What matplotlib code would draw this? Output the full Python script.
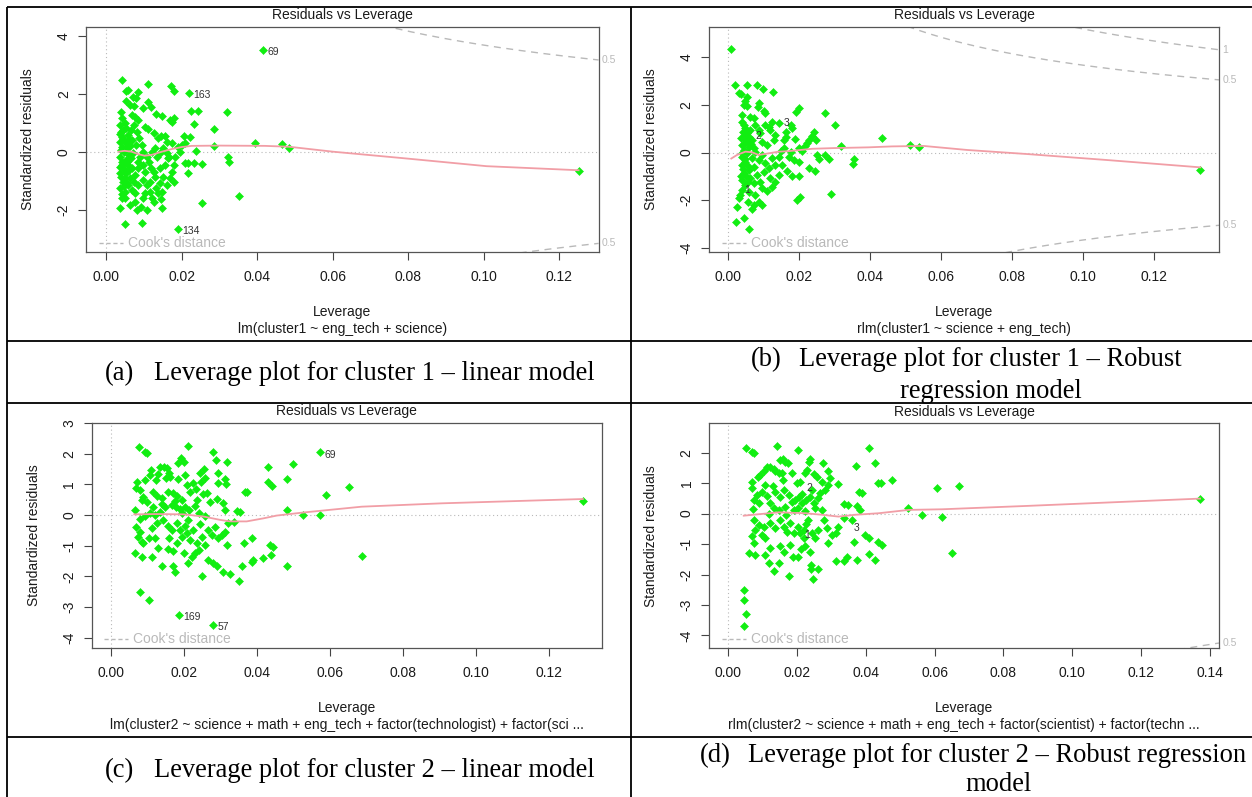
import numpy as np
import matplotlib
matplotlib.use("Agg")
import matplotlib.pyplot as plt
from matplotlib.lines import Line2D
from matplotlib.transforms import blended_transform_factory

# ---- data read off the four R "Residuals vs Leverage" plots ----
# (a) lm, cluster 1
pts_a = [
    (0.0042, 2.47), (0.0051, 2.09), (0.0058, 2.11), (0.0111, 2.32), (0.0171, 2.28), (0.0179, 2.09),
    (0.0083, 2.05), (0.0070, 1.90), (0.0079, 1.84), (0.0052, 1.76), (0.0063, 1.61), (0.0073, 1.57),
    (0.0110, 1.70), (0.0117, 1.55), (0.0098, 1.49), (0.0132, 1.29), (0.0148, 1.24), (0.0039, 1.36),
    (0.0042, 1.15), (0.0048, 0.98), (0.0067, 1.26), (0.0076, 1.21), (0.0085, 1.09), (0.0169, 1.09),
    (0.0175, 1.03), (0.0178, 1.15), (0.0224, 1.41), (0.0242, 1.41), (0.0231, 0.94), (0.0286, 0.77),
    (0.0319, 1.36), (0.0206, 0.55), (0.0222, 0.49), (0.0175, 0.29), (0.0160, 0.34), (0.0145, 0.54),
    (0.0154, 0.55), (0.0101, 0.84), (0.0110, 0.78), (0.0125, 0.63), (0.0136, 0.46), (0.0238, 0.02),
    (0.0286, 0.21), (0.0323, -0.17), (0.0325, -0.37), (0.0208, -0.40), (0.0217, -0.40), (0.0231, -0.40),
    (0.0253, -0.44), (0.0215, -0.75), (0.0180, -0.46), (0.0175, -0.69), (0.0182, -0.17), (0.0164, -0.23),
    (0.0155, -0.46), (0.0142, -0.57), (0.0129, -0.86), (0.0116, -1.03), (0.0107, -1.15), (0.0102, -0.69),
    (0.0098, -0.46), (0.0085, -0.57), (0.0076, -0.80), (0.0072, -1.03), (0.0058, -1.15), (0.0049, -1.38),
    (0.0041, -1.61), (0.0049, -1.61), (0.0036, -1.95), (0.0076, -1.72), (0.0082, -2.02), (0.0092, -1.90),
    (0.0107, -2.01), (0.0120, -1.61), (0.0127, -1.72), (0.0145, -1.63), (0.0147, -1.93), (0.0138, -1.44),
    (0.0116, -1.38), (0.0102, -1.44), (0.0095, -2.45), (0.0049, -2.51), (0.0254, -1.78), (0.0352, -1.52),
    (0.0035, 0.92), (0.0039, 0.69), (0.0042, 0.52), (0.0035, 0.34), (0.0041, 0.17), (0.0046, 0.00),
    (0.0037, -0.17), (0.0042, -0.34), (0.0035, -0.52), (0.0048, -0.69), (0.0039, -0.86), (0.0044, -1.03),
    (0.0035, -1.26), (0.0053, 0.80), (0.0057, 0.57), (0.0049, 0.34), (0.0055, 0.11), (0.0060, -0.11),
    (0.0053, -0.29), (0.0058, -0.46), (0.0051, -0.75), (0.0062, -0.92), (0.0055, -1.09), (0.0064, 0.75),
    (0.0067, 0.40), (0.0065, -0.23), (0.0069, -0.57), (0.0071, -0.06), (0.0037, 0.60), (0.0044, 0.45),
    (0.0040, -0.45), (0.0047, -0.60), (0.0038, 0.05), (0.0050, -0.90), (0.0045, 0.75), (0.0056, 0.28),
    (0.0061, 0.45), (0.0059, -0.62), (0.0046, -1.20), (0.0040, -1.45), (0.0037, -0.72), (0.0062, 0.20),
    (0.0054, -0.35), (0.0074, 0.92), (0.0080, 0.69), (0.0087, 0.46), (0.0094, 0.23), (0.0078, 0.23),
    (0.0089, -0.17), (0.0098, 0.00), (0.0107, -0.17), (0.0083, -0.34), (0.0113, -0.34), (0.0120, 0.00),
    (0.0129, 0.11), (0.0133, -0.17), (0.0142, -0.06), (0.0151, 0.11), (0.0160, -0.06), (0.0166, -0.17),
    (0.0189, 0.17), (0.0200, 0.23), (0.0208, 0.29), (0.0195, 0.00), (0.0118, -0.57), (0.0125, -0.69),
    (0.0151, -0.86), (0.0169, -0.92), (0.0178, -1.03), (0.0160, -1.15), (0.0142, -1.09), (0.0131, -1.26),
    (0.0085, -1.15), (0.0098, -0.98), (0.0067, -1.32), (0.0076, -1.44), (0.0098, -1.61), (0.0063, -1.84),
    (0.0148, -1.38), (0.0415, 3.52), (0.0218, 2.01), (0.0191, -2.67), (0.0395, 0.31), (0.0465, 0.26),
    (0.0484, 0.14), (0.1251, -0.66),
]
smooth_a_x = [0.0032, 0.0048, 0.0067, 0.0085, 0.0102, 0.0120, 0.0147, 0.0173, 0.0200, 0.0226,
              0.0300, 0.0420, 0.0484, 0.0600, 0.0791, 0.1007, 0.1251]
smooth_a_y = [0.00, 0.03, 0.00, -0.09, -0.14, -0.11, 0.00, 0.09, 0.16, 0.20,
              0.21, 0.20, 0.17, 0.00, -0.23, -0.50, -0.64]
ids_a = [("69", 0.0415, 3.52), ("163", 0.0218, 2.01), ("134", 0.0191, -2.67)]

# (b) rlm, cluster 1
pts_b = [
    (0.0009, 4.34), (0.0019, 2.84), (0.0052, 2.84), (0.0082, 2.84), (0.0099, 2.66), (0.0127, 2.53),
    (0.0030, 2.49), (0.0035, 2.46), (0.0054, 2.35), (0.0047, 2.17), (0.0044, 2.00), (0.0054, 1.96),
    (0.0086, 2.07), (0.0085, 1.93), (0.0101, 1.75), (0.0105, 1.65), (0.0038, 1.58), (0.0063, 1.51),
    (0.0072, 1.44), (0.0201, 1.89), (0.0192, 1.69), (0.0274, 1.68), (0.0301, 1.16), (0.0124, 1.30),
    (0.0143, 1.26), (0.0176, 1.16), (0.0180, 1.02), (0.0115, 1.09), (0.0119, 0.95), (0.0242, 0.85),
    (0.0237, 0.70), (0.0162, 0.88), (0.0164, 0.67), (0.0157, 0.53), (0.0188, 0.57), (0.0133, 0.74),
    (0.0129, 0.53), (0.0227, 0.53), (0.0223, 0.39), (0.0218, 0.29), (0.0434, 0.63), (0.0317, 0.28),
    (0.0199, 0.21), (0.0207, 0.07), (0.0176, 0.01), (0.0148, 0.07), (0.0143, -0.17), (0.0284, -0.28),
    (0.0256, -0.28), (0.0251, -0.10), (0.0354, -0.27), (0.0351, -0.49), (0.0171, -0.17), (0.0185, -0.31),
    (0.0201, -0.38), (0.0229, -0.66), (0.0246, -0.77), (0.0166, -0.76), (0.0179, -0.97), (0.0201, -0.97),
    (0.0289, -1.75), (0.0204, -1.85), (0.0195, -1.99), (0.0143, -0.94), (0.0133, -1.22), (0.0124, -1.43),
    (0.0110, -1.61), (0.0096, -2.20), (0.0086, -2.06), (0.0072, -2.20), (0.0068, -2.37), (0.0056, -2.06),
    (0.0033, -1.78), (0.0030, -1.92), (0.0025, -2.27), (0.0046, -2.76), (0.0021, -2.90), (0.0058, -3.21),
    (0.0039, 1.30), (0.0044, 1.16), (0.0049, 1.02), (0.0041, 0.88), (0.0054, 0.81), (0.0060, 0.67),
    (0.0044, 0.60), (0.0068, 0.53), (0.0049, 0.39), (0.0038, 0.32), (0.0058, 0.25), (0.0072, 0.18),
    (0.0044, 0.11), (0.0077, 0.04), (0.0054, -0.03), (0.0039, -0.17), (0.0066, -0.24), (0.0086, -0.31),
    (0.0049, -0.38), (0.0038, -0.52), (0.0072, -0.59), (0.0058, -0.73), (0.0044, -0.87), (0.0082, -0.94),
    (0.0063, -1.08), (0.0039, -1.15), (0.0049, -1.36), (0.0072, -1.29), (0.0091, -1.22), (0.0060, -1.64),
    (0.0077, -1.78), (0.0038, -1.57), (0.0096, -0.10), (0.0105, -0.45), (0.0115, -0.66), (0.0101, -0.80),
    (0.0110, 0.32), (0.0096, 0.46), (0.0091, 0.81), (0.0105, 1.16), (0.0077, 1.16), (0.0086, 0.95),
    (0.0124, -0.24), (0.0133, -0.52), (0.0119, -1.08), (0.0152, -0.52), (0.0157, 0.18), (0.0096, -1.50),
    (0.0045, 0.70), (0.0052, 0.50), (0.0040, 0.00), (0.0047, -0.25), (0.0055, -0.55), (0.0042, -0.70),
    (0.0050, -1.00), (0.0062, 0.95), (0.0057, -1.25), (0.0035, -1.00), (0.0065, 0.35), (0.0036, 0.60),
    (0.0272, -0.10), (0.0249, 0.53), (0.0514, 0.31), (0.0538, 0.22), (0.1331, -0.73),
]
smooth_b_x = [0.0009, 0.0025, 0.0049, 0.0068, 0.0086, 0.0115, 0.0143, 0.0171, 0.0237, 0.0300,
              0.0395, 0.0462, 0.0551, 0.0674, 0.0842, 0.1066, 0.1331]
smooth_b_y = [-0.25, -0.10, 0.04, 0.01, -0.10, -0.03, 0.04, 0.06, 0.16, 0.19,
              0.22, 0.26, 0.28, 0.11, -0.06, -0.31, -0.62]
ids_b = [("1", 0.0055, -1.57), ("2", 0.0086, 0.70), ("3", 0.0166, 1.23)]

# (c) lm, cluster 2
pts_c = [
    (0.0079, 2.23), (0.0093, 2.06), (0.0099, 2.03), (0.0211, 2.26), (0.0282, 2.06), (0.0289, 1.79),
    (0.0318, 1.74), (0.0192, 1.85), (0.0200, 1.74), (0.0186, 1.68), (0.0110, 1.47), (0.0107, 1.30),
    (0.0095, 1.14), (0.0072, 1.09), (0.0071, 0.87), (0.0136, 1.57), (0.0147, 1.55), (0.0154, 1.52),
    (0.0161, 1.36), (0.0163, 1.23), (0.0152, 1.19), (0.0131, 1.34), (0.0124, 1.14), (0.0245, 1.36),
    (0.0257, 1.50), (0.0259, 1.19), (0.0248, 1.09), (0.0186, 1.16), (0.0204, 1.30), (0.0209, 0.98),
    (0.0227, 1.03), (0.0234, 0.84), (0.0294, 1.36), (0.0295, 1.03), (0.0314, 1.16), (0.0316, 1.01),
    (0.0368, 0.76), (0.0375, 0.76), (0.0432, 1.57), (0.0430, 1.09), (0.0442, 0.94), (0.0501, 1.65),
    (0.0483, 1.16), (0.0081, 0.81), (0.0090, 0.60), (0.0099, 0.43), (0.0085, 0.49), (0.0067, 0.16),
    (0.0117, 0.76), (0.0127, 0.62), (0.0140, 0.54), (0.0158, 0.76), (0.0172, 0.71), (0.0183, 0.62),
    (0.0195, 0.49), (0.0218, 0.76), (0.0236, 0.49), (0.0254, 0.68), (0.0265, 0.71), (0.0273, 0.43),
    (0.0291, 0.51), (0.0309, 0.38), (0.0168, 0.33), (0.0179, 0.25), (0.0190, 0.18), (0.0204, 0.25),
    (0.0215, 0.16), (0.0149, 0.25), (0.0136, 0.11), (0.0122, 0.00), (0.0108, 0.05), (0.0095, -0.05),
    (0.0081, -0.14), (0.0346, 0.14), (0.0355, 0.11), (0.0314, 0.16), (0.0241, 0.05), (0.0259, -0.05),
    (0.0483, 0.16), (0.0528, 0.00), (0.0070, -0.38), (0.0081, -0.54), (0.0074, -0.71), (0.0085, -0.87),
    (0.0090, -0.92), (0.0104, -0.76), (0.0113, -0.43), (0.0127, -0.27), (0.0122, -0.76), (0.0131, -1.09),
    (0.0145, -0.16), (0.0158, -0.36), (0.0168, -0.49), (0.0181, -0.27), (0.0190, -0.49), (0.0204, -0.36),
    (0.0195, -0.71), (0.0209, -0.60), (0.0218, -0.81), (0.0227, -0.49), (0.0236, -0.92), (0.0250, -0.71),
    (0.0259, -0.98), (0.0268, -0.49), (0.0277, -0.65), (0.0286, -0.38), (0.0295, -0.76), (0.0305, -0.65),
    (0.0314, -0.54), (0.0323, -0.27), (0.0337, -0.22), (0.0318, -0.98), (0.0067, -1.25), (0.0085, -1.36),
    (0.0113, -1.36), (0.0140, -1.68), (0.0156, -1.12), (0.0170, -1.16), (0.0172, -1.68), (0.0177, -1.85),
    (0.0183, -0.92), (0.0200, -1.25), (0.0213, -1.57), (0.0222, -1.36), (0.0232, -1.25), (0.0241, -1.14),
    (0.0250, -1.99), (0.0268, -1.47), (0.0280, -1.57), (0.0291, -1.68), (0.0307, -1.85), (0.0327, -1.92),
    (0.0353, -2.17), (0.0359, -1.66), (0.0366, -0.90), (0.0387, -0.76), (0.0390, -1.47), (0.0387, -1.55),
    (0.0417, -1.41), (0.0437, -0.98), (0.0444, -1.03), (0.0439, -1.30), (0.0483, -1.65), (0.0081, -2.50),
    (0.0104, -2.79), (0.0187, -3.26), (0.0282, -3.60), (0.0575, 2.04), (0.0589, 0.64), (0.0652, 0.90),
    (0.0688, -1.34), (0.0575, 0.00), (0.1294, 0.47), (0.0176, 0.45), (0.0196, 0.05), (0.0213, -0.15),
    (0.0142, 0.35), (0.0230, 0.30), (0.0115, 0.25), (0.0160, -0.75), (0.0245, -0.30),
]
smooth_c_x = [0.0065, 0.0127, 0.0200, 0.0254, 0.0300, 0.0327, 0.0373, 0.0419, 0.0455, 0.0528,
              0.0688, 0.0908, 0.1294]
smooth_c_y = [0.02, 0.03, 0.02, -0.05, -0.16, -0.21, -0.21, -0.11, -0.02, 0.08, 0.27, 0.38, 0.52]
ids_c = [("69", 0.0575, 2.04), ("169", 0.0187, -3.26), ("57", 0.0282, -3.60)]

# (d) rlm, cluster 2
pts_d = [
    (0.0053, 2.16), (0.0070, 2.01), (0.0075, 1.98), (0.0142, 2.23), (0.0203, 2.09), (0.0239, 1.78),
    (0.0236, 1.70), (0.0275, 1.67), (0.0411, 2.14), (0.0426, 1.67), (0.0373, 1.57), (0.0159, 1.78),
    (0.0167, 1.70), (0.0174, 1.67), (0.0152, 1.76), (0.0113, 1.54), (0.0123, 1.54), (0.0133, 1.45),
    (0.0137, 1.38), (0.0147, 1.32), (0.0157, 1.34), (0.0104, 1.41), (0.0094, 1.27), (0.0086, 1.19),
    (0.0071, 1.02), (0.0070, 0.83), (0.0186, 1.32), (0.0225, 1.32), (0.0210, 1.05), (0.0200, 0.99),
    (0.0231, 1.43), (0.0249, 1.29), (0.0258, 1.19), (0.0292, 1.38), (0.0297, 1.16), (0.0292, 0.94),
    (0.0321, 0.96), (0.0273, 1.05), (0.0283, 0.78), (0.0268, 0.67), (0.0108, 0.94), (0.0099, 0.72),
    (0.0084, 0.61), (0.0077, 0.45), (0.0089, 0.34), (0.0072, 0.14), (0.0113, 0.56), (0.0123, 0.36),
    (0.0137, 0.72), (0.0152, 0.54), (0.0162, 0.78), (0.0176, 0.61), (0.0186, 0.39), (0.0196, 0.45),
    (0.0207, 0.54), (0.0215, 0.34), (0.0227, 0.45), (0.0239, 0.54), (0.0249, 0.36), (0.0261, 0.50),
    (0.0244, 0.78), (0.0133, 0.17), (0.0147, 0.10), (0.0167, 0.21), (0.0191, 0.12), (0.0205, 0.17),
    (0.0225, 0.07), (0.0254, 0.17), (0.0273, 0.12), (0.0336, 0.32), (0.0350, 0.28), (0.0376, 0.25),
    (0.0384, 0.12), (0.0436, 1.00), (0.0445, 0.99), (0.0476, 1.10), (0.0380, 0.72), (0.0390, 0.69),
    (0.0522, 0.17), (0.0563, -0.04), (0.0607, 0.83), (0.0622, -0.10), (0.0077, -0.21), (0.0089, -0.37),
    (0.0079, -0.54), (0.0070, -0.75), (0.0075, -0.97), (0.0104, -0.43), (0.0099, -0.70), (0.0108, -0.81),
    (0.0123, -1.14), (0.0108, -1.36), (0.0079, -1.36), (0.0062, -1.28), (0.0123, -0.32), (0.0137, -0.48),
    (0.0152, -0.21), (0.0162, -0.43), (0.0171, -0.59), (0.0181, -0.32), (0.0191, -0.64), (0.0205, -0.43),
    (0.0210, -0.64), (0.0220, -0.54), (0.0220, -0.81), (0.0234, -0.21), (0.0244, -0.64), (0.0254, -0.81),
    (0.0263, -0.54), (0.0278, -0.21), (0.0288, -0.48), (0.0292, -0.97), (0.0302, -0.70), (0.0314, -0.64),
    (0.0321, -0.43), (0.0338, -0.15), (0.0360, -0.21), (0.0365, -0.92), (0.0399, -0.70), (0.0409, -0.81),
    (0.0436, -0.92), (0.0447, -1.03), (0.0152, -1.06), (0.0162, -1.25), (0.0181, -1.03), (0.0188, -1.43),
    (0.0205, -1.41), (0.0213, -1.17), (0.0225, -1.08), (0.0239, -1.27), (0.0118, -1.61), (0.0135, -1.90),
    (0.0149, -1.61), (0.0178, -2.04), (0.0242, -1.70), (0.0241, -1.81), (0.0261, -1.83), (0.0246, -2.14),
    (0.0314, -1.55), (0.0336, -1.57), (0.0347, -1.41), (0.0375, -1.54), (0.0409, -1.32), (0.0428, -1.54),
    (0.0046, -2.52), (0.0046, -2.83), (0.0053, -3.30), (0.0046, -3.68), (0.1371, 0.47), (0.0672, 0.91),
    (0.0651, -1.28), (0.0130, 0.90), (0.0118, 0.00), (0.0170, -0.05), (0.0215, 0.65), (0.0160, 1.10),
    (0.0228, -0.35),
]
smooth_d_x = [0.0046, 0.0147, 0.0225, 0.0273, 0.0321, 0.0370, 0.0438, 0.0525, 0.0622, 0.0868, 0.1371]
smooth_d_y = [-0.07, 0.04, 0.01, -0.04, -0.10, -0.04, 0.01, 0.12, 0.14, 0.25, 0.49]
ids_d = [("2", 0.0236, 0.83), ("1", 0.0229, -0.70), ("3", 0.0373, -0.48)]

# number of coefficients (for Cook's distance contours) and contour levels
n_coef = {"a": 3, "b": 3, "c": 7, "d": 6}
cook_levels = [0.5, 1]

xticks_ab = [0.00, 0.02, 0.04, 0.06, 0.08, 0.10, 0.12]
xticks_d = [0.00, 0.02, 0.04, 0.06, 0.08, 0.10, 0.12, 0.14]
yticks_a = [-2, 0, 2, 4]
yticks_b = [-4, -2, 0, 2, 4]
yticks_c = [-4, -3, -2, -1, 0, 1, 2, 3]
yticks_d = [-4, -3, -2, -1, 0, 1, 2]

subtitles = {
    "a": "lm(cluster1 ~ eng_tech + science)",
    "b": "rlm(cluster1 ~ science + eng_tech)",
    "c": "lm(cluster2 ~ science + math + eng_tech + factor(technologist) + factor(sci ...",
    "d": "rlm(cluster2 ~ science + math + eng_tech + factor(scientist) + factor(techn ...",
}

# ---- layout (pixels of a 1252 x 797 canvas) ----
W, H = 1252, 797
def fx(px):
    return px / W
def fy(py):
    return 1 - py / H

plt.rcParams['font.family'] = ['Liberation Sans', 'DejaVu Sans']
fig = plt.figure(figsize=(W / 100, H / 100), dpi=100)

panels = [
    ("a", pts_a, smooth_a_x, smooth_a_y, ids_a, (86.4, 26.7, 598.6, 252.3), (-0.0053, 0.1304), (-3.47, 4.31), xticks_ab, yticks_a, True),
    ("b", pts_b, smooth_b_x, smooth_b_y, ids_b, (709.3, 26.7, 1219.0, 252.3), (-0.0053, 0.1384), (-4.19, 5.29), xticks_ab, yticks_b, False),
    ("c", pts_c, smooth_c_x, smooth_c_y, ids_c, (91.6, 422.7, 601.8, 648.3), (-0.0052, 0.1346), (-4.35, 3.01), xticks_ab, yticks_c, True),
    ("d", pts_d, smooth_d_x, smooth_d_y, ids_d, (709.3, 423.3, 1219.0, 648.3), (-0.0054, 0.1426), (-4.42, 2.96), xticks_d, yticks_d, False),
]

txt = '#1a1a1a'
grey = '#b9b9b9'

for key, pts, sx, sy, ids, box, xlim, ylim, xt, yt, offset_ids in panels:
    l, t, r, b = box
    ax = fig.add_axes([fx(l), fy(b), (r - l) / W, (b - t) / H])
    ax.set_xlim(*xlim)
    ax.set_ylim(*ylim)

    ax.axhline(0, color=grey, lw=0.8, ls=(0, (1, 2.5)), zorder=1)
    ax.axvline(0, color=grey, lw=0.8, ls=(0, (1, 2.5)), zorder=1)

    # Cook's distance contours
    p = n_coef[key]
    hh = np.linspace(0.0005, xlim[1], 300)
    for crit in cook_levels:
        cl = np.sqrt(crit * p * (1 - hh) / hh)
        ax.plot(hh, cl, color=grey, lw=1.0, ls=(0, (5, 4)), zorder=1)
        ax.plot(hh, -cl, color=grey, lw=1.0, ls=(0, (5, 4)), zorder=1)
    trans = blended_transform_factory(ax.transAxes, ax.transData)
    aty = np.sqrt(np.array(cook_levels) * p * (1 - xlim[1]) / xlim[1])
    for lev, yv in zip(cook_levels, aty):
        for sgn in (1, -1):
            if ylim[0] < sgn * yv < ylim[1]:
                ax.annotate(f"{lev:g}", (1.0, sgn * yv), xycoords=trans, xytext=(2.5, 0),
                            textcoords='offset points', ha='left', va='center',
                            fontsize=7.5, color=grey, annotation_clip=False)

    xs = [q[0] for q in pts]
    ys = [q[1] for q in pts]
    ax.plot(xs, ys, ls='none', marker='D', ms=3.6, mfc='#11ee11', mec='#11ee11', mew=0.4, zorder=3)
    ax.plot(sx, sy, color='#f19ea6', lw=1.3, zorder=4)

    for lab, x0, y0 in ids:
        if offset_ids:
            ax.annotate(lab, (x0, y0), xytext=(3, -1.5), textcoords='offset points',
                        ha='left', va='center', fontsize=7.5, color='#333333', zorder=5)
        else:
            ax.text(x0, y0, lab, ha='center', va='center', fontsize=7.5, color='#333333', zorder=5)

    # legend "Cook's distance"
    ax.plot([0.024, 0.072], [0.040, 0.040], transform=ax.transAxes, color=grey, lw=1.0, ls=(0, (3, 2)))
    ax.text(0.081, 0.040, "Cook's distance", transform=ax.transAxes, ha='left', va='center',
            fontsize=10, color=grey)

    ax.set_xticks(xt, labels=[f"{v:.2f}" for v in xt])
    ax.set_yticks(yt, labels=[str(v) for v in yt])
    ax.tick_params(axis='both', direction='out', length=6, width=0.8, colors='#444444',
                   labelcolor=txt, labelsize=10)
    ax.tick_params(axis='x', pad=6.8)
    ax.tick_params(axis='y', pad=5.2)
    for lbl in ax.get_yticklabels():
        lbl.set_rotation(90)
        lbl.set_verticalalignment('center')
    for s in ax.spines.values():
        s.set_color('#555555')
        s.set_linewidth(0.9)

    cx = (l + r) / 2
    fig.text(fx(cx), fy(t - 11.7), "Residuals vs Leverage", ha='center', va='center', fontsize=10, color=txt)
    fig.text(fx(cx), fy(b + 60), "Leverage", ha='center', va='center', fontsize=10, color=txt)
    fig.text(fx(cx), fy(b + 77), subtitles[key], ha='center', va='center', fontsize=10, color=txt)
    fig.text(fx(l - 58), fy((t + b) / 2), "Standardized residuals", rotation=90,
             ha='center', va='center', fontsize=10, color=txt)

# ---- captions ----
serif = dict(family='Liberation Serif', fontsize=19.1, color='black', va='baseline')
fig.text(fx(105), fy(380), "(a)", **serif)
fig.text(fx(153.5), fy(380), "Leverage plot for cluster 1 \u2013 linear model", **serif)
fig.text(fx(751), fy(365.7), "(b)", **serif)
fig.text(fx(798.6), fy(365.7), "Leverage plot for cluster 1 \u2013 Robust", **serif)
fig.text(fx(991), fy(398), "regression model", ha='center', **serif)
fig.text(fx(105.3), fy(776.7), "(c)", **serif)
fig.text(fx(153.5), fy(776.7), "Leverage plot for cluster 2 \u2013 linear model", **serif)
fig.text(fx(699.4), fy(761.7), "(d)", **serif)
fig.text(fx(748.2), fy(761.7), "Leverage plot for cluster 2 \u2013 Robust regression", **serif)
fig.text(fx(999), fy(791), "model", ha='center', **serif)

# ---- table rules ----
def rule(x0, y0, x1, y1):
    fig.add_artist(Line2D([fx(x0), fx(x1)], [fy(y0), fy(y1)], transform=fig.transFigure,
                          color='black', lw=1.3, solid_capstyle='butt'))

rule(7, 7, W, 7)
rule(7, 7, 7, H)
rule(631, 7, 631, H)
for yy in (341, 403, 737):
    rule(7, yy, W, yy)

fig.savefig("out.png", dpi=100)
